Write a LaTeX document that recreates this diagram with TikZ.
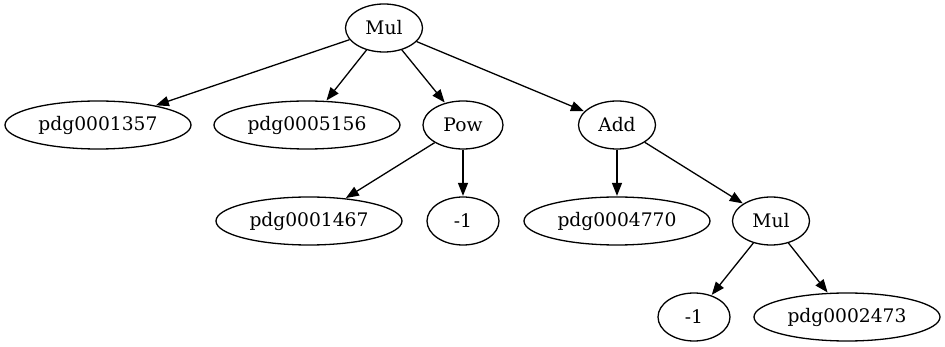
\documentclass[tikz,border=0pt]{standalone}
\usepackage{fontspec}
\setmainfont{DejaVu Serif}
\usetikzlibrary{arrows.meta,shapes.geometric}
\begin{document}
\begin{tikzpicture}[x=1pt,y=-1pt,
  gnode/.style={draw, ellipse, line width=1.3pt, inner sep=0pt, minimum height=48pt,
    font=\fontsize{18.67}{22}\selectfont},
  wide/.style={gnode, minimum width=186pt},
  narrow/.style={gnode, minimum width=77pt},
  tiny/.style={gnode, minimum width=72pt},
  edge/.style={line width=1.3pt, -{Triangle[length=13pt,width=10pt]}, shorten >=0.5pt}]
\useasboundingbox (0,0) rectangle (945,347);
\node[narrow] (mul) at (384,28) {Mul};
\node[wide] (p1357) at (98,125) {pdg0001357};
\node[wide] (p5156) at (307,125) {pdg0005156};
\node[gnode, minimum width=80pt] (pow) at (463,125) {Pow};
\node[narrow] (add) at (617,125) {Add};
\node[wide] (p1467) at (309,221) {pdg0001467};
\node[tiny] (m1a) at (463,221) {-1};
\node[wide] (p4770) at (617,221) {pdg0004770};
\node[narrow] (mul2) at (771,221) {Mul};
\node[tiny] (m1b) at (694,317) {-1};
\node[wide] (p2473) at (847,317) {pdg0002473};
\draw[edge] (mul) -- (p1357);
\draw[edge] (mul) -- (p5156);
\draw[edge] (mul) -- (pow);
\draw[edge] (mul) -- (add);
\draw[edge] (pow) -- (p1467);
\draw[edge] (pow) -- (m1a);
\draw[edge] (add) -- (p4770);
\draw[edge] (add) -- (mul2);
\draw[edge] (mul2) -- (m1b);
\draw[edge] (mul2) -- (p2473);
\end{tikzpicture}
\end{document}
